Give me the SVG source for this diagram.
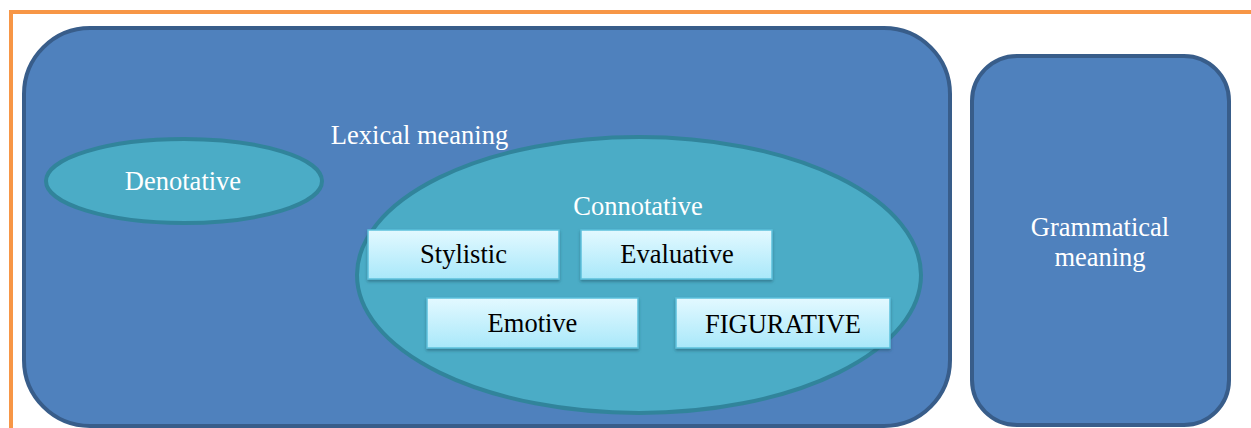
<svg xmlns="http://www.w3.org/2000/svg" width="1251" height="428" viewBox="0 0 1251 428">
  <defs>
    <linearGradient id="boxFill" x1="0" y1="0" x2="0" y2="1">
      <stop offset="0" stop-color="#E3F9FF"/>
      <stop offset="1" stop-color="#A9E8FA"/>
    </linearGradient>
    <filter id="shadow" x="-10%" y="-20%" width="120%" height="150%">
      <feDropShadow dx="0" dy="2" stdDeviation="1.5" flood-color="#1f5566" flood-opacity="0.55"/>
    </filter>
    <style>
      .frame { fill: none; stroke: #F79646; stroke-width: 4; }
      .panel { fill: #4F81BD; stroke: #385D8A; stroke-width: 4; }
      .oval { fill: #4BACC6; stroke: #31849B; stroke-width: 4; }
      .box { fill: url(#boxFill); stroke: #5CC0DB; stroke-width: 1.5; filter: url(#shadow); }
      .wt { font-size: 26.5px; fill: #FFFFFF; text-anchor: middle; }
      .bt { font-size: 26.5px; fill: #000000; text-anchor: middle; }
    </style>
  </defs>

  <!-- outer frame -->
  <path class="frame" d="M11 428 V12 H1251"/>

  <g font-family="Liberation Serif, Times New Roman, serif">
  <!-- lexical meaning panel -->
  <g id="lexical">
    <rect class="panel" x="24" y="28" width="926" height="398" rx="66" ry="66"/>
    <text class="wt" x="419.5" y="144">Lexical meaning</text>
  </g>

  <!-- grammatical meaning panel -->
  <g id="grammatical">
    <rect class="panel" x="972" y="56" width="257" height="369" rx="45" ry="45"/>
    <text class="wt" x="1100" y="236">Grammatical</text>
    <text class="wt" x="1100" y="266">meaning</text>
  </g>

  <!-- denotative -->
  <g id="denotative">
    <ellipse class="oval" cx="184" cy="181" rx="138" ry="42"/>
    <text class="wt" x="183" y="190">Denotative</text>
  </g>

  <!-- connotative -->
  <g id="connotative">
    <ellipse class="oval" cx="639" cy="275" rx="282" ry="138"/>
    <text class="wt" x="638" y="215">Connotative</text>
  </g>

  <g id="stylistic">
    <rect class="box" x="368" y="230" width="191" height="49"/>
    <text class="bt" x="463.5" y="263">Stylistic</text>
  </g>

  <g id="evaluative">
    <rect class="box" x="581" y="230" width="191" height="49"/>
    <text class="bt" x="677" y="263">Evaluative</text>
  </g>

  <g id="emotive">
    <rect class="box" x="427" y="298" width="211" height="50"/>
    <text class="bt" x="532.5" y="332">Emotive</text>
  </g>

  <g id="figurative">
    <rect class="box" x="676" y="298" width="214" height="50"/>
    <text class="bt" x="783" y="333">FIGURATIVE</text>
  </g>
  </g>

  <g id="connectors"/>
</svg>
